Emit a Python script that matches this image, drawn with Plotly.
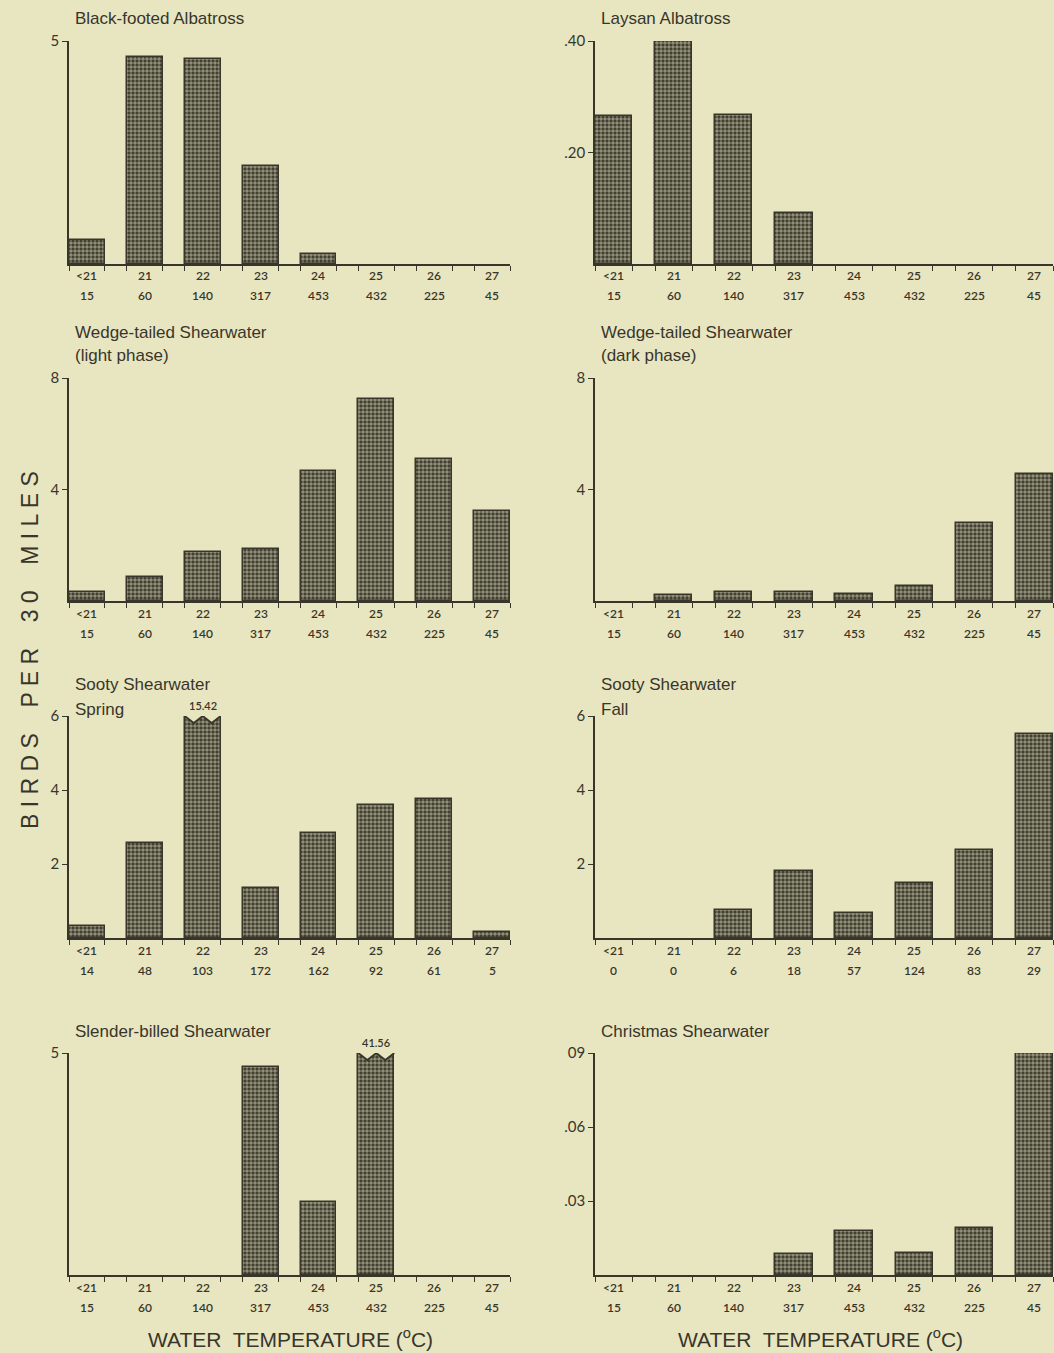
import plotly.graph_objects as go

# ---- data -------------------------------------------------------------
temp_labels = ["<21", "21", "22", "23", "24", "25", "26", "27"]
n_standard = [15, 60, 140, 317, 453, 432, 225, 45]
n_sooty_spring = [14, 48, 103, 172, 162, 92, 61, 5]
n_sooty_fall = [0, 0, 6, 18, 57, 124, 83, 29]

black_footed = [0.54, 4.65, 4.60, 2.20, 0.22, 0, 0, 0]
laysan = [0.266, 0.40, 0.268, 0.091, 0, 0, 0, 0]
wedge_light = [0.32, 0.86, 1.76, 1.87, 4.65, 7.24, 5.08, 3.24]
wedge_dark = [0, 0.22, 0.32, 0.32, 0.25, 0.54, 2.81, 4.54]
sooty_spring = [0.33, 2.58, 15.42, 1.36, 2.83, 3.60, 3.75, 0.16]
sooty_fall = [0, 0, 0.75, 1.80, 0.67, 1.50, 2.37, 5.51]
slender_billed = [0, 0, 0, 4.68, 1.65, 41.56, 0, 0]
christmas = [0, 0, 0, 0.0085, 0.018, 0.0089, 0.019, 0.09]

ticks_5 = [5]
ticks_5_text = ["5"]
ticks_laysan = [0.20, 0.40]
ticks_laysan_text = [".20", ".40"]
ticks_8 = [4, 8]
ticks_8_text = ["4", "8"]
ticks_6 = [2, 4, 6]
ticks_6_text = ["2", "4", "6"]
ticks_christmas = [0.03, 0.06, 0.09]
ticks_christmas_text = [".03", ".06", "09"]

panels = [
    (["Black-footed Albatross"], black_footed, n_standard, ticks_5, ticks_5_text),
    (["Laysan Albatross"], laysan, n_standard, ticks_laysan, ticks_laysan_text),
    (["Wedge-tailed Shearwater", "(light phase)"], wedge_light, n_standard, ticks_8, ticks_8_text),
    (["Wedge-tailed Shearwater", "(dark phase)"], wedge_dark, n_standard, ticks_8, ticks_8_text),
    (["Sooty Shearwater", "Spring"], sooty_spring, n_sooty_spring, ticks_6, ticks_6_text),
    (["Sooty Shearwater", "Fall"], sooty_fall, n_sooty_fall, ticks_6, ticks_6_text),
    (["Slender-billed Shearwater"], slender_billed, n_standard, ticks_5, ticks_5_text),
    (["Christmas Shearwater"], christmas, n_standard, ticks_christmas, ticks_christmas_text),
]

# ---- styling / layout -------------------------------------------------
W, H = 1054, 1353
BG = "#e8e5c1"
INK = "#38362a"
TITLE_FONT = "Liberation Sans Narrow, Liberation Sans, sans-serif"
NUM_FONT = "Lato, Liberation Sans, sans-serif"
BAR_W = 0.62

col_px = [(69, 510), (595, 1053)]
row_top = [41, 378, 716, 1053]
row_base = [264, 601, 938, 1275]
title_offsets = [[22], [22], [46, 23], [46, 23], [31, 7], [31, 7], [22], [22]]


def fx(px):
    return px / W


def fy(py):
    return 1 - py / H


fig = go.Figure()
annotations = []
shapes = []
layout = {}

for k, (title_lines, values, counts, tvals, ttext) in enumerate(panels):
    r, c = divmod(k, 2)
    sfx = "" if k == 0 else str(k + 1)
    xa, ya = "x" + sfx, "y" + sfx
    ymax = tvals[-1]
    cats = list(range(len(temp_labels)))
    # empty classes get no bar at all, only the baseline
    shown = [v if v > 0 else None for v in values]

    fig.add_trace(go.Bar(
        x=cats, y=shown, width=BAR_W, xaxis=xa, yaxis=ya,
        marker=dict(color=INK,
                    line=dict(color=INK, width=1.5),
                    pattern=dict(shape=".", fgcolor=BG, bgcolor=INK,
                                 size=4, solidity=0.62, fillmode="overlay")),
        showlegend=False, hoverinfo="skip",
    ))

    edges = []
    for i in cats:
        edges += [i - BAR_W / 2, i + BAR_W / 2]

    x0, x1 = col_px[c]
    layout["xaxis" + sfx] = dict(
        domain=[fx(x0), fx(x1)], anchor=ya, automargin=False,
        range=[-BAR_W / 2, len(cats) - 1 + BAR_W / 2],
        showline=True, linecolor=INK, linewidth=1.5,
        tickvals=edges, ticks="outside", ticklen=5, tickwidth=1.3, tickcolor=INK,
        showticklabels=False, showgrid=False, zeroline=False, fixedrange=True,
    )
    layout["yaxis" + sfx] = dict(
        domain=[fy(row_base[r]), fy(row_top[r])], anchor=xa, automargin=False,
        range=[0, ymax],
        showline=True, linecolor=INK, linewidth=1.5,
        tickvals=tvals, ticktext=ttext, ticks="outside", ticklen=5,
        tickwidth=1.3, tickcolor=INK,
        tickfont=dict(family=NUM_FONT, size=15, color=INK),
        showgrid=False, zeroline=False, fixedrange=True,
    )

    # temperature class and sample size under each bar
    for i in cats:
        annotations.append(dict(
            x=i, y=0, xref=xa, yref=ya + " domain", yshift=-12,
            text=temp_labels[i], showarrow=False, yanchor="middle", xanchor="center",
            font=dict(family=NUM_FONT, size=12, color=INK, weight=600)))
        annotations.append(dict(
            x=i, y=0, xref=xa, yref=ya + " domain", yshift=-32,
            text=str(counts[i]), showarrow=False, yanchor="middle", xanchor="center",
            font=dict(family=NUM_FONT, size=12, color=INK, weight=600)))

    # panel title
    for line, off in zip(title_lines, title_offsets[k]):
        annotations.append(dict(
            x=fx(x0 + 4), y=fy(row_top[r] - off), xref="paper", yref="paper",
            text=line, showarrow=False, xanchor="left", yanchor="middle",
            font=dict(family=TITLE_FONT, size=17, color=INK)))

    # bars exceeding the scale: zigzag break and printed value
    px_per_unit = (row_base[r] - row_top[r]) / ymax
    depth = 7 / px_per_unit
    for i, v in enumerate(values):
        if v > ymax:
            xl, xr = i - BAR_W / 2, i + BAR_W / 2
            q = BAR_W / 4
            pts = [(xl, ymax), (xl + q, ymax - depth), (i, ymax),
                   (i + q, ymax - depth), (xr, ymax)]
            path = "M " + " L ".join(f"{px},{py}" for px, py in pts)
            shapes.append(dict(type="path", path=path + " Z", xref=xa, yref=ya,
                               fillcolor=BG, line=dict(width=0), layer="above"))
            shapes.append(dict(type="path", path=path, xref=xa, yref=ya,
                               line=dict(color=INK, width=1.8), layer="above"))
            annotations.append(dict(
                x=i, y=ymax, xref=xa, yref=ya, yshift=11,
                text=f"{v:.2f}", showarrow=False, yanchor="middle", xanchor="center",
                font=dict(family=NUM_FONT, size=11, color=INK, weight=600)))

# shared axis captions
annotations.append(dict(
    x=fx(30), y=fy(650), xref="paper", yref="paper", textangle=-90,
    xanchor="center", yanchor="middle",
    text="B I R D S&nbsp;&nbsp;&nbsp; P E R&nbsp;&nbsp;&nbsp; 3 0&nbsp;&nbsp;&nbsp; M I L E S",
    showarrow=False, font=dict(family="Liberation Sans, sans-serif", size=23, color=INK)))
for cx in (290, 820):
    annotations.append(dict(
        x=fx(cx), y=fy(1338), xref="paper", yref="paper",
        xanchor="center", yanchor="middle",
        text="WATER  TEMPERATURE (<sup>o</sup>C)", showarrow=False,
        font=dict(family="Liberation Sans, sans-serif", size=21, color=INK)))

fig.update_layout(
    width=W, height=H,
    margin=dict(l=0, r=0, t=0, b=0, autoexpand=False),
    paper_bgcolor=BG, plot_bgcolor=BG,
    bargap=0, annotations=annotations, shapes=shapes,
    **layout,
)

fig.write_html("out.html", config={"displayModeBar": False})
